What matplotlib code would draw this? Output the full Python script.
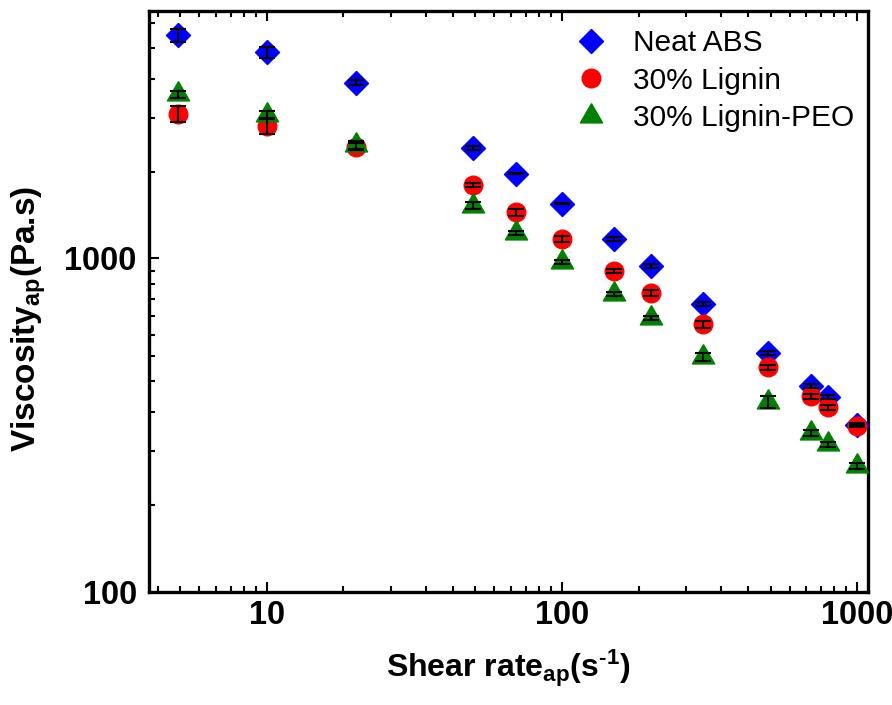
import numpy as np
import matplotlib
matplotlib.use("Agg")
import matplotlib.pyplot as plt
from matplotlib.ticker import FixedLocator, NullFormatter, FixedFormatter

# ---- data ----
shear_rate = [5, 10, 20, 50, 70, 100, 150, 200, 300, 500, 700, 800, 1000]
neat_abs = [4677, 4150, 3366, 2146, 1794, 1458, 1143, 950, 731, 521, 414, 383, 317]
neat_abs_err = [210, 160, 60, 30, 4, 4, 16, 14, 9, 8, 5, 5, 3]
lignin30 = [2710, 2495, 2162, 1659, 1374, 1143, 918, 788, 634, 471, 386, 357, 315]
lignin30_err = [148, 142, 50, 27, 30, 20, 14, 15, 15, 8, 7, 6, 2]
lignin_peo = [3104, 2687, 2183, 1439, 1192, 975, 782, 662, 506, 371, 299, 277, 238]
lignin_peo_err = [84, 76, 60, 33, 14, 16, 12, 11, 13, 15, 6, 5, 5]

series_labels = ["Neat ABS", "30% Lignin", "30% Lignin-PEO"]
x_major = [10, 100, 1000]
y_major = [100, 1000]

plt.rcParams['font.family'] = ['Liberation Sans', 'DejaVu Sans']
plt.rcParams['mathtext.fontset'] = 'custom'
plt.rcParams['mathtext.rm'] = 'Liberation Sans:bold'
plt.rcParams['mathtext.bf'] = 'Liberation Sans:bold'
plt.rcParams['mathtext.it'] = 'Liberation Sans:bold'

fig = plt.figure(figsize=(8.92, 7.05), dpi=100)
W, H = 892, 705
L, R, T, B = 149.3, 867.5, 11.3, 591.7
ax = fig.add_axes([L / W, 1 - B / H, (R - L) / W, (B - T) / H])
ax.set_xscale('log')
ax.set_yscale('log')
ax.set_xlim(4.0, 1085)
ax.set_ylim(100, 5510)

diamond = [(0, 1), (1, 0), (0, -1), (-1, 0), (0, 1)]
tri = [(0, 1), (-0.866, -0.5), (0.866, -0.5), (0, 1)]

ax.plot(shear_rate, neat_abs, linestyle='none', marker=diamond, ms=17.3,
        color='#0000ff', mec='#0000ff', label=series_labels[0], zorder=3)
ax.plot(shear_rate, lignin30, linestyle='none', marker='o', ms=13.4,
        color='#ff0000', mec='#ff0000', label=series_labels[1], zorder=3)
ax.plot(shear_rate, lignin_peo, linestyle='none', marker=tri, ms=18.5,
        color='#008000', mec='#008000', label=series_labels[2], zorder=3)

for vals, errs in [(neat_abs, neat_abs_err), (lignin30, lignin30_err), (lignin_peo, lignin_peo_err)]:
    ax.errorbar(shear_rate, vals, yerr=errs, fmt='none', ecolor='black',
                elinewidth=1.5, capsize=6, capthick=1.5, zorder=4)

# ticks: minor ticks linearly spaced within each decade (11 intervals)
def minor_ticks(decades):
    out = []
    for d in decades:
        for k in range(1, 11):
            out.append(d * (1 + 9 * k / 11))
    return out

ax.xaxis.set_major_locator(FixedLocator(x_major))
ax.xaxis.set_major_formatter(FixedFormatter([str(v) for v in x_major]))
ax.xaxis.set_minor_locator(FixedLocator(minor_ticks([1, 10, 100])))
ax.xaxis.set_minor_formatter(NullFormatter())
ax.yaxis.set_major_locator(FixedLocator(y_major))
ax.yaxis.set_major_formatter(FixedFormatter([str(v) for v in y_major]))
ax.yaxis.set_minor_locator(FixedLocator(minor_ticks([100, 1000])))
ax.yaxis.set_minor_formatter(NullFormatter())

ax.tick_params(which='both', direction='in', top=True, right=False, width=1.5)
ax.tick_params(which='major', length=7, labelsize=23.5, pad=6)
ax.tick_params(which='minor', length=4)
ax.tick_params(axis='y', which='major', pad=9)
for lab in ax.get_xticklabels() + ax.get_yticklabels():
    lab.set_fontweight('bold')

for s in ax.spines.values():
    s.set_linewidth(2.4)

ax.set_xlabel('Shear rate$_{\\mathbf{ap}}$(s$^{\\mathbf{\u20101}}$)',
              fontsize=23, fontweight='bold', labelpad=12)
ax.set_ylabel(r'Viscosity$_{\mathbf{ap}}$(Pa.s)', fontsize=24,
              fontweight='bold')
ax.yaxis.set_label_coords(-0.141, 0.47)

leg = ax.legend(loc='upper left', bbox_to_anchor=(561.5 / W, 1 - 29 / H),
                bbox_transform=fig.transFigure, frameon=False, fontsize=21.5,
                borderpad=0, borderaxespad=0, handlelength=2.0,
                handletextpad=0.38, labelspacing=0.32, numpoints=1)

fig.savefig('out.png', dpi=100)
